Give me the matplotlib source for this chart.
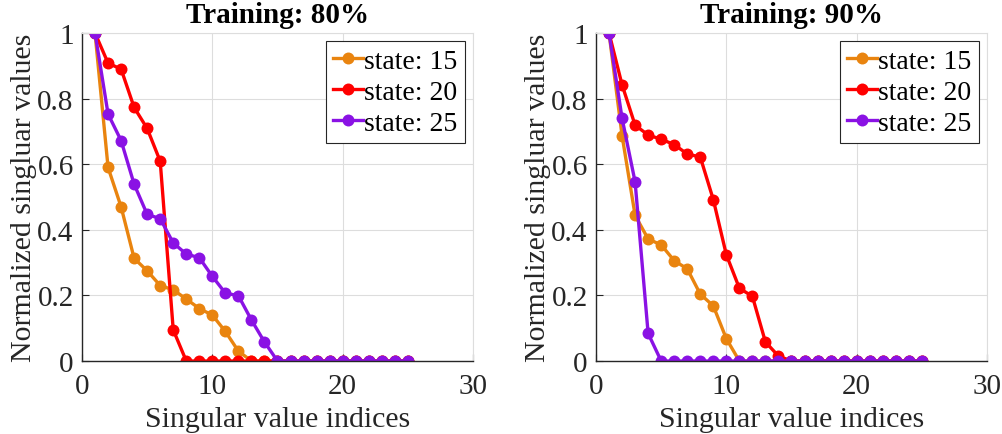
import matplotlib.pyplot as plt

plt.rcParams['font.family'] = ['Liberation Serif', 'DejaVu Serif']
plt.rcParams['mathtext.fontset'] = 'stix'

idx = list(range(1, 26))

# Training 80%
s15_80 = [1, 0.59, 0.47, 0.313, 0.275, 0.23, 0.217, 0.189, 0.16, 0.14, 0.09, 0.03,
          0, 0, 0, 0, 0, 0, 0, 0, 0, 0, 0, 0, 0]
s20_80 = [1, 0.908, 0.89, 0.773, 0.709, 0.609, 0.095, 0, 0, 0, 0, 0,
          0, 0, 0, 0, 0, 0, 0, 0, 0, 0, 0, 0, 0]
s25_80 = [1, 0.753, 0.672, 0.539, 0.447, 0.434, 0.36, 0.326, 0.315, 0.258, 0.207, 0.199,
          0.125, 0.058, 0, 0, 0, 0, 0, 0, 0, 0, 0, 0, 0]

# Training 90%
s15_90 = [1, 0.687, 0.444, 0.372, 0.354, 0.306, 0.281, 0.204, 0.168, 0.068, 0, 0,
          0, 0, 0, 0, 0, 0, 0, 0, 0, 0, 0, 0, 0]
s20_90 = [1, 0.842, 0.719, 0.689, 0.676, 0.66, 0.631, 0.622, 0.492, 0.324, 0.222, 0.197,
          0.058, 0.015, 0, 0, 0, 0, 0, 0, 0, 0, 0, 0, 0]
s25_90 = [1, 0.74, 0.546, 0.084, 0, 0, 0, 0, 0, 0, 0, 0,
          0, 0, 0, 0, 0, 0, 0, 0, 0, 0, 0, 0, 0]

labels = ["state: 15", "state: 20", "state: 25"]
colors = ["#E9840F", "#FF0000", "#8A12E4"]
titles = ["Training: 80%", "Training: 90%"]
panels = [[s15_80, s20_80, s25_80], [s15_90, s20_90, s25_90]]

fig = plt.figure(figsize=(10.03, 4.35), dpi=100)
lefts = [82 / 1003, 596 / 1003]

for p in range(2):
    ax = fig.add_axes([lefts[p], 1 - 362 / 435, 391 / 1003, 328 / 435])
    for series, lab, col in zip(panels[p], labels, colors):
        ax.plot(idx, series, color=col, lw=2.4, marker='o', ms=8.6,
                markeredgewidth=0, label=lab)
    ax.set_xlim(0, 30)
    ax.set_ylim(0, 1)
    ax.set_xticks([0, 10, 20, 30])
    ax.set_yticks([0, 0.2, 0.4, 0.6, 0.8, 1])
    ax.set_yticklabels(["0", "0.2", "0.4", "0.6", "0.8", "1"])
    ax.grid(True, color='#DDDDDD', lw=0.8)
    ax.set_axisbelow(True)
    ax.tick_params(direction='in', length=5, labelsize=21, colors='#262626',
                   top=False, right=False)
    ax.tick_params(axis='x', pad=9)
    ax.tick_params(axis='y', pad=6)
    for s in ['left', 'bottom']:
        ax.spines[s].set_color('#262626')
        ax.spines[s].set_linewidth(1.0)
    for s in ['top', 'right']:
        ax.spines[s].set_color('#DDDDDD')
        ax.spines[s].set_linewidth(0.8)
    ax.set_xlabel("Singular value indices", fontsize=21.5, color='#262626', labelpad=5)
    ax.set_ylabel("Normalized singluar values", fontsize=21.5, color='#262626', labelpad=0)
    ax.set_title(titles[p], fontsize=21, fontweight='bold', pad=8)
    leg = ax.legend(loc='upper right', fontsize=20, handlelength=1.1, handletextpad=0.05,
                    borderpad=0.25, labelspacing=0.2, borderaxespad=0.3,
                    fancybox=False, framealpha=1)
    leg.get_frame().set_edgecolor('#262626')
    leg.get_frame().set_linewidth(0.8)

fig.savefig("out.png", dpi=100)
